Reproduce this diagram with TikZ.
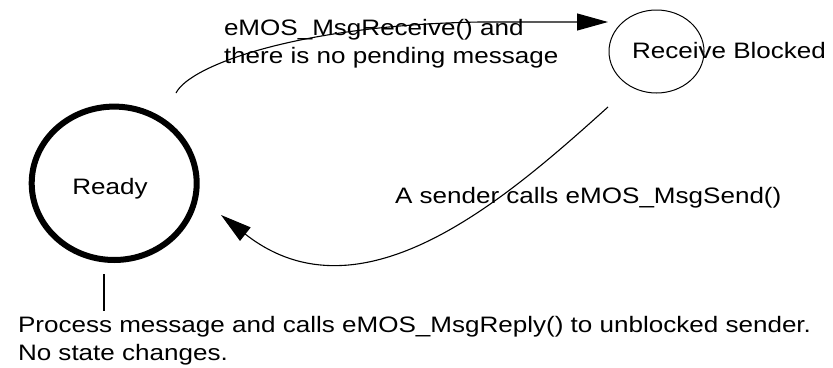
\documentclass[tikz,border=0pt]{standalone}
\usepackage{fontspec}
\setmainfont[FakeStretch=1.165]{Liberation Sans}
\usetikzlibrary{shapes.geometric,arrows.meta}

\begin{document}
\begin{tikzpicture}[x=1pt,y=-1pt,
  txt/.style={inner sep=0pt,outer sep=0pt,align=left,
    font=\fontsize{22.35}{28}\selectfont},
  state/.style={ellipse,draw,inner sep=0pt},
  trans/.style={line width=1.1pt,
    -{Triangle[length=31pt,width=17pt]}},
  note/.style={line width=2pt}]
\useasboundingbox (0,0) rectangle (833,367);

% states
\node[state,line width=6pt,minimum width=165pt,minimum height=153.4pt]
  (ready) at (114.2,183.3) {};
\node[txt,anchor=base] (readylbl) at (110,194.3) {Ready};
\node[state,line width=1pt,minimum width=95pt,minimum height=83pt]
  (rblk) at (656.5,51.5) {};
\node[txt,anchor=base west] (rblklbl) at (632,58.3) {Receive Blocked};

% transition labels (multi-line nodes are anchored on their last line)
\node[txt,anchor=base west] (lblrecv) at (224,63)
  {eMOS\_MsgReceive() and\\there is no pending message};
\node[txt,anchor=base west] (lblsend) at (395,203.3)
  {A sender calls eMOS\_MsgSend()};
\node[txt,anchor=base west] (lblreply) at (18,360.5)
  {Process message and calls eMOS\_MsgReply() to unblocked sender.\\No state changes.};

% free ends of the connectors
\coordinate (recvA) at (176,93);
\coordinate (recvB) at (608,22);
\coordinate (sendA) at (608,107);
\coordinate (sendB) at (221,215);
\coordinate (noteA) at (104,274);
\coordinate (noteB) at (104,311);

% Ready -> Receive Blocked
\draw[trans] (recvA) .. controls (190,65) and (300,25) .. (480,22) -- (recvB);
% Receive Blocked -> Ready
\draw[trans] (sendA) .. controls (508,197) and (362,326) .. (sendB);
% self note under Ready
\draw[note] (noteA) -- (noteB);
\end{tikzpicture}
\end{document}
